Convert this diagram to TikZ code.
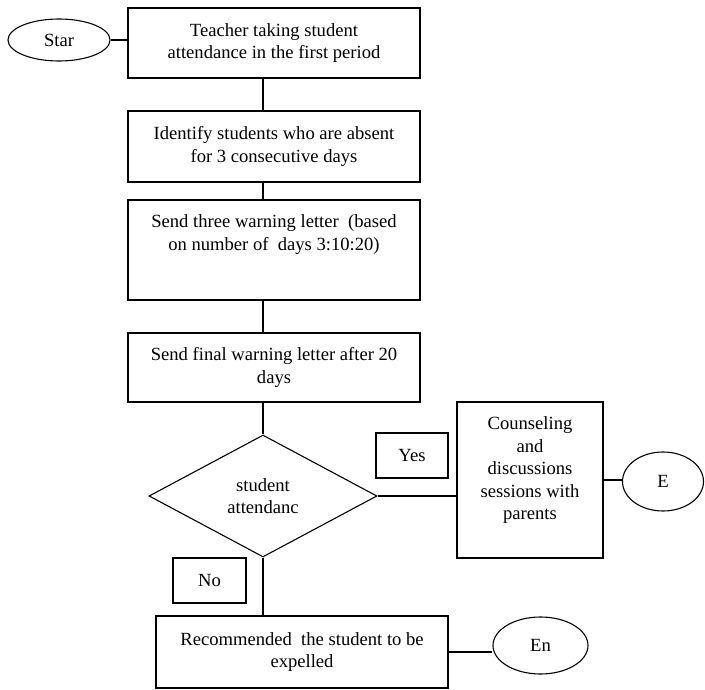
\documentclass[tikz,border=0pt]{standalone}
\usepackage{fontspec}
\setmainfont{Liberation Serif}
\usetikzlibrary{shapes.geometric}
\begin{document}
\begin{tikzpicture}[x=1pt,y=-1pt,
  every node/.style={font=\fontsize{18.6}{22.5}\selectfont, line width=1.1pt},
  box/.style={draw, rectangle, align=center, inner sep=0pt},
  oval/.style={draw, ellipse, inner sep=0pt},
  toplabel/.style={anchor=north, align=center, inner sep=0pt},
  conn/.style={draw, line width=1.1pt}]
\useasboundingbox (0,0) rectangle (705,690);
\node[oval, minimum width=102pt, minimum height=42pt] (star) at (59,40) {Star};
\node[box, minimum width=292pt, minimum height=70pt] (b1) at (274,43) {Teacher taking student\\attendance in the first period};
\node[box, minimum width=292pt, minimum height=71pt] (b2) at (274,146.5) {Identify students who are absent\\for 3 consecutive days};
\node[box, minimum width=292pt, minimum height=100pt,
  label={[toplabel, yshift=-15pt]north:Send three warning letter\ \ (based\\on number of\ \ days 3:10:20)}] (b3) at (274,250) {};
\node[box, minimum width=292pt, minimum height=69pt] (b4) at (274,367.5) {Send final warning letter after 20\\days};
\node[draw, diamond, aspect=1.87, inner sep=0pt, align=center, minimum width=228pt, minimum height=122pt] (dia) at (263,496) {student\\attendanc};
\node[box, minimum width=72pt, minimum height=45pt] (yes) at (412,455.5) {Yes};
\node[box, minimum width=146pt, minimum height=156pt,
  label={[toplabel, yshift=-15pt]north:Counseling\\and\\discussions\\sessions with\\parents}] (couns) at (530,480) {};
\node[oval, minimum width=81pt, minimum height=59pt] (E) at (663,481.5) {E};
\node[box, minimum width=73pt, minimum height=45pt] (no) at (209.5,580.5) {No};
\node[box, minimum width=292pt, minimum height=72pt] (fin) at (302,652) {Recommended\ \ the student to be\\expelled};
\node[oval, minimum width=95pt, minimum height=57pt] (En) at (540.5,645.5) {En};
\draw[conn] (star.east) -- (star.east -| b1.west);
\draw[conn] (b1.south -| dia.north) -- (b2.north -| dia.north);
\draw[conn] (b2.south -| dia.north) -- (b3.north -| dia.north);
\draw[conn] (b3.south -| dia.north) -- (b4.north -| dia.north);
\draw[conn] (b4.south -| dia.north) -- (dia.north);
\draw[conn] (dia.south) -- (fin.north -| dia.south);
\draw[conn] (dia.east) -- (dia.east -| couns.west);
\draw[conn] (couns.east) -- (couns.east -| E.west);
\draw[conn] (fin.east) -- (fin.east -| En.west);
\end{tikzpicture}
\end{document}
